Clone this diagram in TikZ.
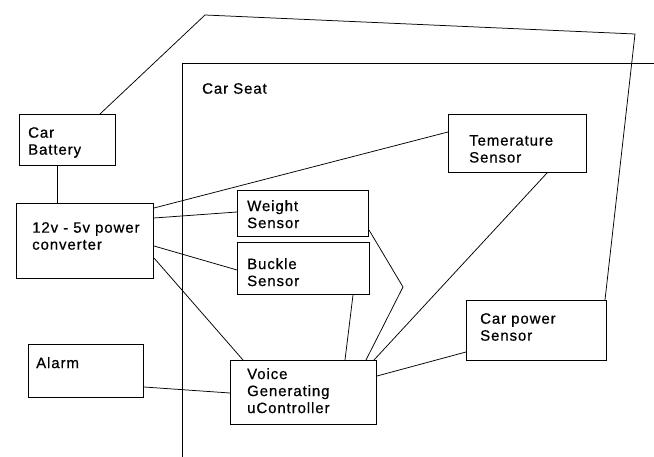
\documentclass[tikz,border=0pt]{standalone}
\usepackage{fontspec}
\setmainfont{Liberation Sans}[LetterSpace=6.0,FakeBold=0.6]
\begin{document}
\begin{tikzpicture}[x=1pt,y=-1pt,
  box/.style={draw,line width=1pt,rectangle,inner sep=0pt,anchor=north west},
  lbl/.style={anchor=north west,inner sep=0pt,align=left,font=\fontsize{15}{17}\selectfont},
  wire/.style={line width=0.75pt}]
\useasboundingbox (0,0) rectangle (654,457);
% boxes
\node[box,minimum width=96pt,minimum height=51pt] (bat) at (19,114) {};
\node[box,minimum width=137pt,minimum height=75pt] (conv) at (16,203) {};
\node[box,minimum width=115pt,minimum height=53pt] (alarm) at (28,344) {};
\node[box,minimum width=131pt,minimum height=46pt] (weight) at (237,190) {};
\node[box,minimum width=132pt,minimum height=52pt] (buckle) at (237,242) {};
\node[box,minimum width=138pt,minimum height=58pt] (temp) at (448,114) {};
\node[box,minimum width=146pt,minimum height=64pt] (voice) at (230,360) {};
\node[box,minimum width=140pt,minimum height=60pt] (cpow) at (466,300) {};
% texts
\node[lbl] (batT) at (28,127) {Car\\Battery};
\node[lbl] (convT) at (32,222) {12v - 5v power\\converter};
\node[lbl] (alarmT) at (36,357) {Alarm};
\node[lbl] (seatT) at (202,83) {Car Seat};
\node[lbl] (weightT) at (247,200) {Weight\\Sensor};
\node[lbl] (buckleT) at (247,258) {Buckle\\Sensor};
\node[lbl] (tempT) at (469,135) {Temerature\\Sensor};
\node[lbl] (voiceT) at (247,368) {Voice\\Generating\\uController};
\node[lbl] (cpowT) at (480,313) {Car power\\Sensor};
% free points
\coordinate (w1) at (205,15);
\coordinate (w2) at (635,34);
\coordinate (kink) at (403,287);
\coordinate (fb) at (182,457);
\coordinate (ft) at (182,63);
\coordinate (fr) at (654,63);
% car seat frame
\draw[wire] (fb) -- (ft) -- (fr);
% connectors
\draw[wire] ([xshift=81pt]bat.north west) -- (w1) -- (w2) -- ([xshift=-2pt]cpow.north east);
\draw[wire] ([xshift=38pt]bat.south west) -- ([xshift=41pt]conv.north west);
\draw[wire] ([yshift=-5pt]conv.north east) -- ([yshift=-18pt]temp.north west);
\draw[wire] ([yshift=-15pt]conv.north east) -- ([yshift=-22pt]weight.north west);
\draw[wire] ([yshift=-43pt]conv.north east) -- ([yshift=-28pt]buckle.north west);
\draw[wire] ([yshift=-55pt]conv.north east) -- ([xshift=13pt]voice.north west);
\draw[wire] ([yshift=-43pt]alarm.north east) -- ([yshift=-33pt]voice.north west);
\draw[wire] ([yshift=-40pt]weight.north east) -- (kink) -- ([xshift=136pt]voice.north west);
\draw[wire] ([xshift=116pt]buckle.south west) -- ([xshift=115pt]voice.north west);
\draw[wire] ([xshift=99pt]temp.south west) -- ([xshift=144pt]voice.north west);
\draw[wire] ([yshift=-52pt]cpow.north west) -- ([yshift=-16pt]voice.north east);
\end{tikzpicture}
\end{document}
